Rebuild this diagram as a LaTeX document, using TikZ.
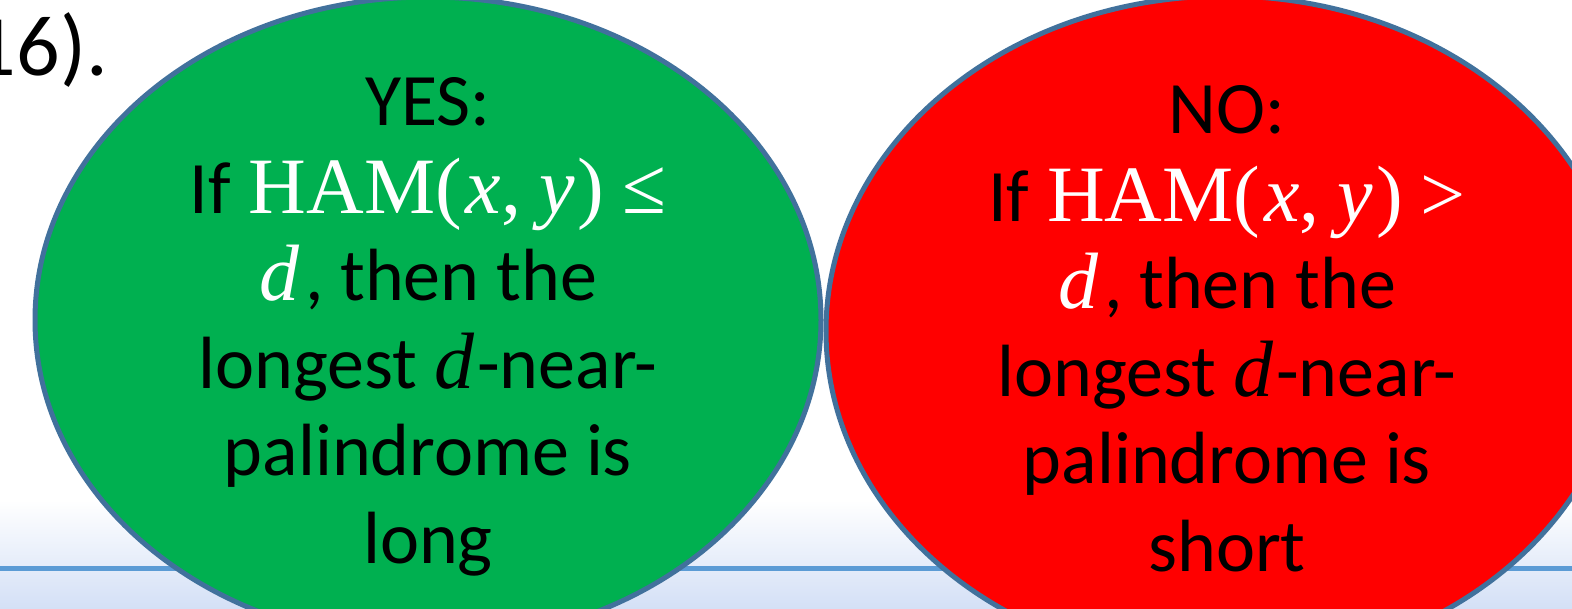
\documentclass[tikz,border=0pt]{standalone}
\usepackage{fontspec}
\setmainfont{Carlito}
\newfontfamily\mathserif[Scale=1.08]{Liberation Serif}
\usetikzlibrary{shapes.geometric}
\definecolor{ovgreen}{HTML}{00B050}
\definecolor{ovred}{HTML}{FF0000}
\definecolor{ovedge}{HTML}{41719C}
\definecolor{rule}{HTML}{5B9BD5}
\definecolor{bgblue}{RGB}{212,224,246}
\newcommand{\wm}[1]{{\color{white}\mathserif #1}}
\newcommand{\mi}[1]{{\mathserif\itshape #1}}
\tikzset{
  oval/.style={ellipse, draw=ovedge, line width=5pt, inner sep=0pt},
  txt/.style={anchor=base, inner sep=0pt, font=\fontsize{74}{88}\selectfont, text=black},
}
\begin{document}
\begin{tikzpicture}[x=1pt,y=-1pt]
\useasboundingbox (0,0) rectangle (1572,608);
\clip (0,0) rectangle (1572,608);
\fill[white] (0,0) rectangle (1572,608);
\shade[top color=white, bottom color=bgblue] (0,500) rectangle (1572,608);
\coordinate (rl) at (0,568);
\coordinate (rr) at (1572,568);
\draw[rule, line width=5pt] (rl) -- (rr);
\node[anchor=base east, inner sep=0pt, font=\fontsize{86}{100}\selectfont] (num) at (108,75) {16).};
% green oval
\node[oval, fill=ovgreen, minimum width=786pt, minimum height=646pt] (yes) at (428,320) {};
\node[txt] (y1) at (428,125) {YES:};
\node[txt] (y2) at (428,213) {If\hspace{18pt}\wm{HAM(\hspace{4pt}\mi{x},\hspace{18pt}\mi{y}\hspace{3pt})\hspace{18pt}≤}};
\node[txt] (y3) at (428,300) {\wm{\mi{d}}\hspace{6pt}, then the};
\node[txt] (y4) at (428,388) {longest \mi{d}\hspace{3pt}-near-};
\node[txt] (y5) at (428,475) {palindrome is};
\node[txt] (y6) at (428,563) {long};
% red oval
\node[oval, fill=ovred, minimum width=798pt, minimum height=670pt] (no) at (1225,331) {};
\node[txt] (n1) at (1227,133) {NO:};
\node[txt] (n2) at (1227,221) {If\hspace{18pt}\wm{HAM(\hspace{4pt}\mi{x},\hspace{18pt}\mi{y}\hspace{3pt})\hspace{18pt}>}};
\node[txt] (n3) at (1227,308) {\wm{\mi{d}}\hspace{6pt}, then the};
\node[txt] (n4) at (1227,396) {longest \mi{d}\hspace{3pt}-near-};
\node[txt] (n5) at (1227,483) {palindrome is};
\node[txt] (n6) at (1227,571) {short};
\end{tikzpicture}
\end{document}
